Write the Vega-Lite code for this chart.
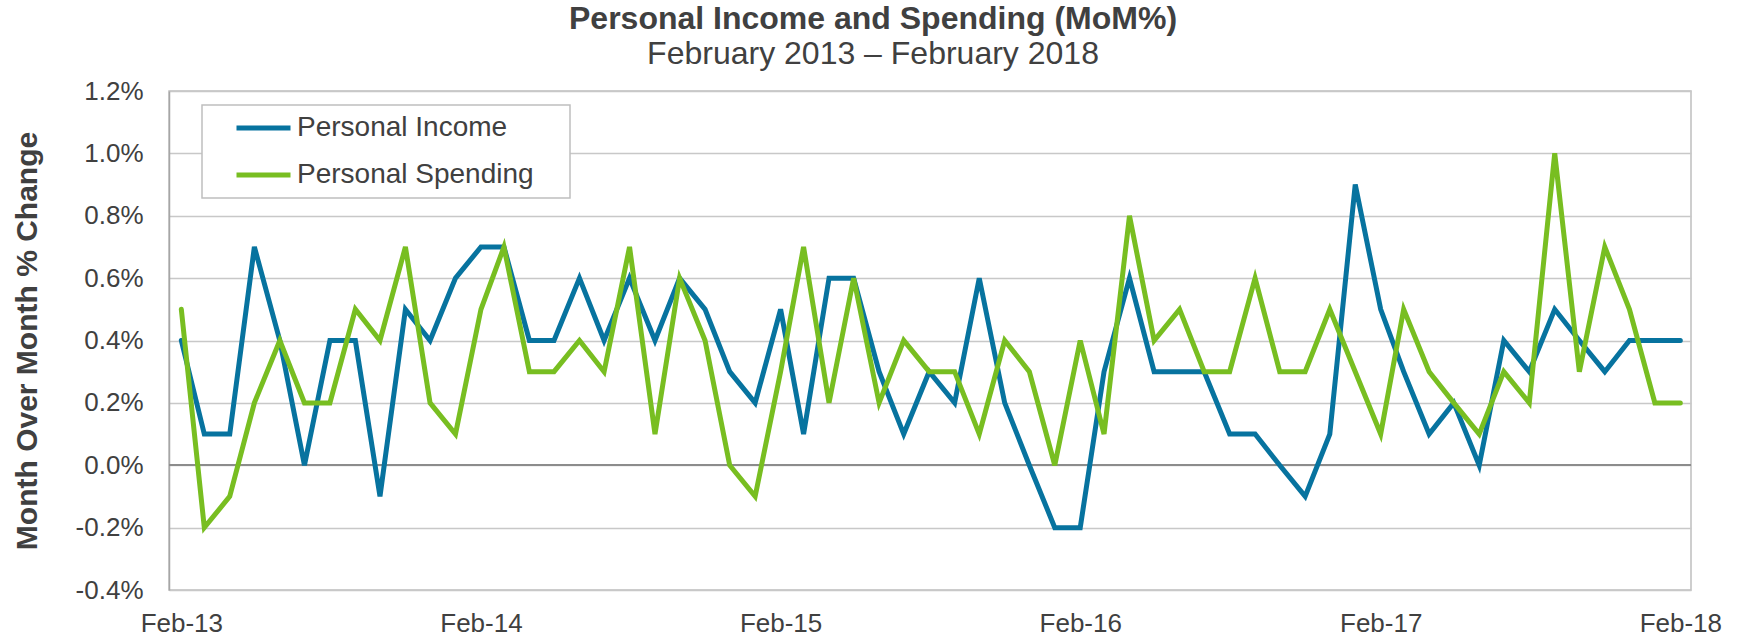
{
  "$schema": "https://vega.github.io/schema/vega-lite/v6.json",
  "autosize": "none",
  "padding": {"left": 169, "top": 91, "right": 54, "bottom": 47},
  "width": 1522,
  "height": 499,
  "background": "white",
  "title": {
    "text": "Personal Income and Spending (MoM%)",
    "subtitle": "February 2013 – February 2018",
    "anchor": "middle",
    "frame": "group",
    "dx": -57,
    "offset": 7,
    "font": "Liberation Sans",
    "fontSize": 32,
    "fontWeight": "bold",
    "color": "#404040",
    "subtitleFont": "Liberation Sans",
    "subtitleFontSize": 32,
    "subtitleColor": "#404040",
    "subtitlePadding": 3
  },
  "data": {
    "values": [
      {"month": "2013-02-01", "Personal Income": 0.4, "Personal Spending": 0.5},
      {"month": "2013-03-01", "Personal Income": 0.1, "Personal Spending": -0.2},
      {"month": "2013-04-01", "Personal Income": 0.1, "Personal Spending": -0.1},
      {"month": "2013-05-01", "Personal Income": 0.7, "Personal Spending": 0.2},
      {"month": "2013-06-01", "Personal Income": 0.4, "Personal Spending": 0.4},
      {"month": "2013-07-01", "Personal Income": 0.0, "Personal Spending": 0.2},
      {"month": "2013-08-01", "Personal Income": 0.4, "Personal Spending": 0.2},
      {"month": "2013-09-01", "Personal Income": 0.4, "Personal Spending": 0.5},
      {"month": "2013-10-01", "Personal Income": -0.1, "Personal Spending": 0.4},
      {"month": "2013-11-01", "Personal Income": 0.5, "Personal Spending": 0.7},
      {"month": "2013-12-01", "Personal Income": 0.4, "Personal Spending": 0.2},
      {"month": "2014-01-01", "Personal Income": 0.6, "Personal Spending": 0.1},
      {"month": "2014-02-01", "Personal Income": 0.7, "Personal Spending": 0.5},
      {"month": "2014-03-01", "Personal Income": 0.7, "Personal Spending": 0.7},
      {"month": "2014-04-01", "Personal Income": 0.4, "Personal Spending": 0.3},
      {"month": "2014-05-01", "Personal Income": 0.4, "Personal Spending": 0.3},
      {"month": "2014-06-01", "Personal Income": 0.6, "Personal Spending": 0.4},
      {"month": "2014-07-01", "Personal Income": 0.4, "Personal Spending": 0.3},
      {"month": "2014-08-01", "Personal Income": 0.6, "Personal Spending": 0.7},
      {"month": "2014-09-01", "Personal Income": 0.4, "Personal Spending": 0.1},
      {"month": "2014-10-01", "Personal Income": 0.6, "Personal Spending": 0.6},
      {"month": "2014-11-01", "Personal Income": 0.5, "Personal Spending": 0.4},
      {"month": "2014-12-01", "Personal Income": 0.3, "Personal Spending": 0.0},
      {"month": "2015-01-01", "Personal Income": 0.2, "Personal Spending": -0.1},
      {"month": "2015-02-01", "Personal Income": 0.5, "Personal Spending": 0.3},
      {"month": "2015-03-01", "Personal Income": 0.1, "Personal Spending": 0.7},
      {"month": "2015-04-01", "Personal Income": 0.6, "Personal Spending": 0.2},
      {"month": "2015-05-01", "Personal Income": 0.6, "Personal Spending": 0.6},
      {"month": "2015-06-01", "Personal Income": 0.3, "Personal Spending": 0.2},
      {"month": "2015-07-01", "Personal Income": 0.1, "Personal Spending": 0.4},
      {"month": "2015-08-01", "Personal Income": 0.3, "Personal Spending": 0.3},
      {"month": "2015-09-01", "Personal Income": 0.2, "Personal Spending": 0.3},
      {"month": "2015-10-01", "Personal Income": 0.6, "Personal Spending": 0.1},
      {"month": "2015-11-01", "Personal Income": 0.2, "Personal Spending": 0.4},
      {"month": "2015-12-01", "Personal Income": 0.0, "Personal Spending": 0.3},
      {"month": "2016-01-01", "Personal Income": -0.2, "Personal Spending": 0.0},
      {"month": "2016-02-01", "Personal Income": -0.2, "Personal Spending": 0.4},
      {"month": "2016-03-01", "Personal Income": 0.3, "Personal Spending": 0.1},
      {"month": "2016-04-01", "Personal Income": 0.6, "Personal Spending": 0.8},
      {"month": "2016-05-01", "Personal Income": 0.3, "Personal Spending": 0.4},
      {"month": "2016-06-01", "Personal Income": 0.3, "Personal Spending": 0.5},
      {"month": "2016-07-01", "Personal Income": 0.3, "Personal Spending": 0.3},
      {"month": "2016-08-01", "Personal Income": 0.1, "Personal Spending": 0.3},
      {"month": "2016-09-01", "Personal Income": 0.1, "Personal Spending": 0.6},
      {"month": "2016-10-01", "Personal Income": 0.0, "Personal Spending": 0.3},
      {"month": "2016-11-01", "Personal Income": -0.1, "Personal Spending": 0.3},
      {"month": "2016-12-01", "Personal Income": 0.1, "Personal Spending": 0.5},
      {"month": "2017-01-01", "Personal Income": 0.9, "Personal Spending": 0.3},
      {"month": "2017-02-01", "Personal Income": 0.5, "Personal Spending": 0.1},
      {"month": "2017-03-01", "Personal Income": 0.3, "Personal Spending": 0.5},
      {"month": "2017-04-01", "Personal Income": 0.1, "Personal Spending": 0.3},
      {"month": "2017-05-01", "Personal Income": 0.2, "Personal Spending": 0.2},
      {"month": "2017-06-01", "Personal Income": 0.0, "Personal Spending": 0.1},
      {"month": "2017-07-01", "Personal Income": 0.4, "Personal Spending": 0.3},
      {"month": "2017-08-01", "Personal Income": 0.3, "Personal Spending": 0.2},
      {"month": "2017-09-01", "Personal Income": 0.5, "Personal Spending": 1.0},
      {"month": "2017-10-01", "Personal Income": 0.4, "Personal Spending": 0.3},
      {"month": "2017-11-01", "Personal Income": 0.3, "Personal Spending": 0.7},
      {"month": "2017-12-01", "Personal Income": 0.4, "Personal Spending": 0.5},
      {"month": "2018-01-01", "Personal Income": 0.4, "Personal Spending": 0.2},
      {"month": "2018-02-01", "Personal Income": 0.4, "Personal Spending": 0.2}
    ]
  },
  "layer": [
    {
      "mark": {"type": "rule", "color": "#8c8c8c", "strokeWidth": 1.5},
      "encoding": {"y": {"datum": 0, "type": "quantitative"}}
    },
    {
      "transform": [
        {"fold": ["Personal Income", "Personal Spending"], "as": ["series", "value"]}
      ],
      "mark": {"type": "line", "strokeWidth": 5, "strokeCap": "round", "strokeJoin": "miter"},
      "encoding": {
        "x": {
          "field": "month",
          "type": "temporal",
          "scale": {
            "type": "utc",
            "domain": [
              {"year": 2013, "month": 1, "date": 17, "utc": true},
              {"year": 2018, "month": 2, "date": 14, "utc": true}
            ]
          },
          "axis": {
            "title": null,
            "values": [
              {"year": 2013, "month": 2, "date": 1, "utc": true},
              {"year": 2014, "month": 2, "date": 1, "utc": true},
              {"year": 2015, "month": 2, "date": 1, "utc": true},
              {"year": 2016, "month": 2, "date": 1, "utc": true},
              {"year": 2017, "month": 2, "date": 1, "utc": true},
              {"year": 2018, "month": 2, "date": 1, "utc": true}
            ],
            "labelExpr": "utcFormat(datum.value, '%b-%y')",
            "grid": false,
            "ticks": false,
            "tickSize": 0,
            "domain": false,
            "labelPadding": 20,
            "labelFlush": false,
            "labelOverlap": false
          }
        },
        "y": {
          "field": "value",
          "type": "quantitative",
          "scale": {"domain": [-0.4, 1.2], "nice": false, "zero": false},
          "axis": {
            "title": "Month Over Month % Change",
            "values": [-0.4, -0.2, 0, 0.2, 0.4, 0.6, 0.8, 1.0, 1.2],
            "labelExpr": "replace(format(datum.value, '.1f'), '\u2212', '-') + '%'",
            "grid": true,
            "gridColor": "#c8c8c8",
            "gridWidth": 1.5,
            "ticks": false,
            "tickSize": 0,
            "domain": true,
            "domainColor": "#a6a6a6",
            "domainWidth": 1.5,
            "labelPadding": 26,
            "titleFont": "Liberation Sans",
            "titleFontSize": 30,
            "titleFontWeight": "bold",
            "titleColor": "#404040",
            "titleX": -133,
            "titleY": 249.5,
            "titleBaseline": "alphabetic",
            "titleAngle": -90
          }
        },
        "color": {
          "field": "series",
          "type": "nominal",
          "scale": {"domain": ["Personal Income", "Personal Spending"], "range": ["#07739f", "#78be21"]},
          "legend": {
            "title": " ",
            "titleOrient": "right",
            "titleFontSize": 1,
            "titlePadding": 29,
            "orient": "none",
            "legendX": 33,
            "legendY": 14,
            "padding": 7,
            "clipHeight": 32,
            "rowPadding": 15,
            "symbolType": "stroke",
            "symbolSize": 2916,
            "symbolStrokeWidth": 5,
            "symbolOffset": 25,
            "labelOffset": 4,
            "labelFont": "Liberation Sans",
            "labelFontSize": 28,
            "labelColor": "#404040",
            "labelLimit": 400,
            "strokeColor": "#bfbfbf",
            "fillColor": "white"
          }
        }
      }
    }
  ],
  "config": {
    "view": {"stroke": "#bfbfbf", "strokeWidth": 1.5},
    "axis": {
      "labelFont": "Liberation Sans",
      "labelFontSize": 26,
      "labelColor": "#404040"
    },
    "legend": {"strokeWidth": 1.5}
  }
}
